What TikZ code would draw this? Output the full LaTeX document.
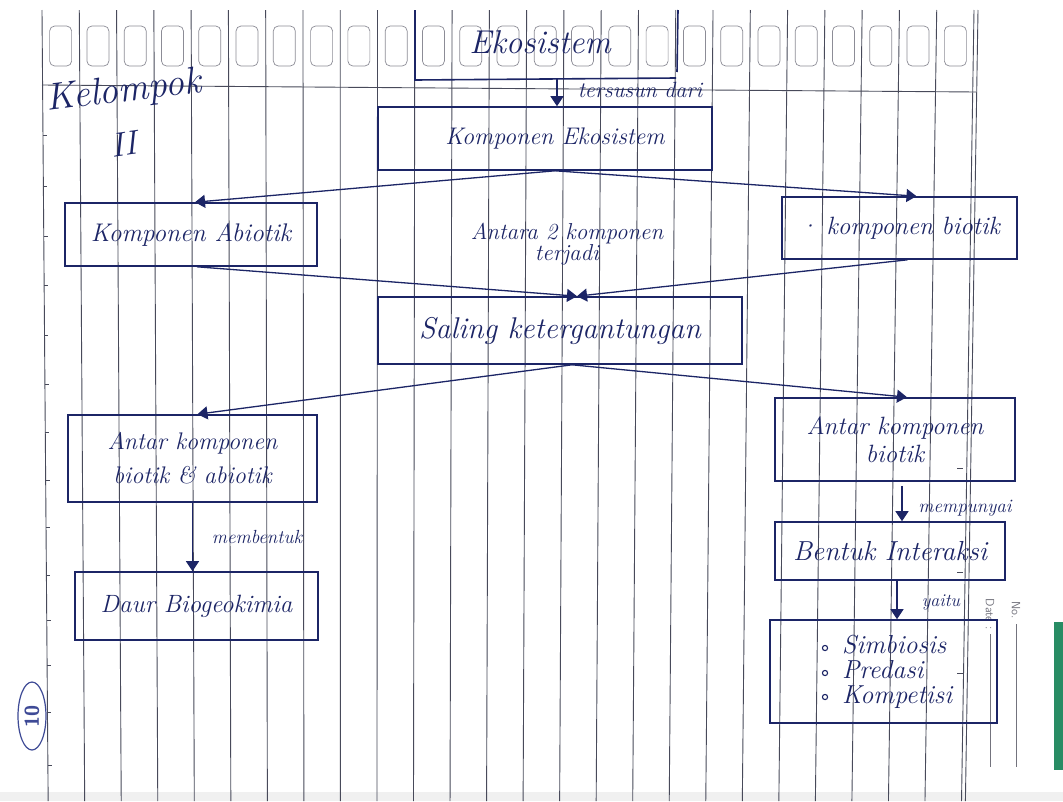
\documentclass[tikz,border=0pt]{standalone}
\usetikzlibrary{arrows.meta,calc}
\definecolor{ink}{RGB}{28,37,102}
\definecolor{rule}{RGB}{72,74,90}
\definecolor{slot}{RGB}{140,140,150}
\definecolor{stamp}{RGB}{62,74,150}
\definecolor{printgray}{RGB}{115,115,125}
\definecolor{edgegreen}{RGB}{40,140,100}
\newcommand\hs[2]{\itshape\fontsize{#1}{#2}\selectfont}
\begin{document}
\begin{tikzpicture}[x=1pt,y=-1pt,
  rulel/.style={draw=rule,line width=0.9pt},
  slotbox/.style={draw=slot,line width=0.7pt,rounded corners=5pt},
  inkbox/.style={draw=ink,line width=1.6pt,inner sep=0pt,text=ink,align=center},
  inkline/.style={draw=ink,line width=1.6pt},
  arr/.style={draw=ink,line width=1.3pt,-{Triangle[width=13pt,length=10pt]}},
  lbl/.style={text=ink,inner sep=0pt,align=center},
]
\useasboundingbox (0,0) rectangle (1063,801);
\fill[white] (0,0) rectangle (1063,801);
\fill[black!6] (0,792) rectangle (1063,801);

% notebook page: vertical rules, writing slots, top rule, margin ticks
\foreach \i in {0,...,25}{
  \pgfmathsetmacro\X{42+37.28*\i}
  \pgfmathsetmacro\B{\X+7-0.02*\X}
  \draw[rulel] (\X,10) -- (\B,801);
}
\draw[rulel] (978,10) -- (965.4,801);
\foreach \i in {0,...,24}{
  \pgfmathsetmacro\C{42+37.28*\i+18.64}
  \draw[slotbox] (\C-11,26) rectangle (\C+11,66);
}
\draw[rulel] (42,85) -- (976,92);
\foreach \t in {135,186,236,285,335,384,432,480,527,575,620,665,712,765}{
  \pgfmathsetmacro\L{42+(\t-10)/791*6}
  \draw[rulel] (\L,\t) -- (\L+4,\t);
}
\foreach \t in {468,572,673}{
  \draw[rulel] (957,\t) -- (963,\t);
}

% printed page fields
\node[text=printgray,font=\sffamily\fontsize{12}{14}\selectfont,rotate=-90,inner sep=0pt] (datef) at (990,614) {Date :};
\node[text=printgray,font=\sffamily\fontsize{12}{14}\selectfont,rotate=-90,inner sep=0pt] (nof) at (1016,610) {No.};
\draw[printgray,line width=0.8pt] (990,634) -- (990,767);
\draw[printgray,line width=0.8pt] (1016,624) -- (1016,767);
\fill[edgegreen] (1054,622) rectangle (1063,770);

% page number stamp
\draw[stamp,line width=1.2pt] (32,716) ellipse (14pt and 34pt);
\node[text=stamp,font=\sffamily\bfseries\fontsize{20}{22}\selectfont,rotate=90,inner sep=0pt] (pg) at (32,716) {10};

% group title
\node[lbl,font=\hs{38}{40},rotate=7] (kel) at (124,92) {Kelompok};
\node[lbl,font=\hs{34}{36},rotate=8] (grp) at (124,144) {II};

% top: ecosystem
\node[lbl,font=\hs{33}{36}] (eko) at (540,42) {Ekosistem};
\draw[inkline] (415,10) -- (415,80) -- (676,78);
\draw[inkline] (678,10) -- (677,72);
\coordinate (ekoB) at (557,78);
\node[inkbox,minimum width=334pt,minimum height=63pt,font=\hs{24}{28}] (ke) at (545,138.5) {\hspace*{20pt}Komponen Ekosistem};
\draw[arr] (ekoB) -- (ekoB |- ke.north);
\node[lbl,font=\hs{22}{24}] (tsd) at (640,90) {tersusun dari};

% second level
\node[inkbox,minimum width=252pt,minimum height=63pt,font=\hs{25.5}{28}] (abio) at (191,234.5) {Komponen Abiotik};
\node[inkbox,minimum width=235pt,minimum height=62pt,font=\hs{25}{28}] (bio) at (899.5,228) {\textperiodcentered\ komponen biotik};
\draw[arr] ([xshift=10pt]ke.south) -- ([xshift=4pt]abio.north);
\draw[arr] ([xshift=10pt]ke.south) -- ([xshift=17pt]bio.north);
\node[lbl,font=\hs{23}{19}] (mid) at (567,244) {Antara 2 komponen\\terjadi};

% interdependence
\node[inkbox,minimum width=364pt,minimum height=67pt,font=\hs{30}{32}] (sal) at (560,330.5) {Saling ketergantungan};
\draw[arr] ([xshift=6pt]abio.south) -- ([xshift=17pt]sal.north);
\draw[arr] ([xshift=8pt]bio.south) -- ([xshift=17pt]sal.north);

% third level
\node[inkbox,minimum width=249pt,minimum height=87pt,font=\hs{24}{34}] (ba) at (192.5,458.5) {Antar komponen\\biotik \& abiotik};
\node[inkbox,minimum width=240pt,minimum height=83pt,font=\hs{25}{28}] (bb) at (895,439.5) {Antar komponen\\biotik};
\draw[arr] ([xshift=12pt]sal.south) -- ([xshift=5pt]ba.north);
\draw[arr] ([xshift=12pt]sal.south) -- ([xshift=12pt]bb.north);

% left branch
\node[inkbox,minimum width=243pt,minimum height=68pt,font=\hs{25}{28}] (daur) at (196.5,606) {Daur Biogeokimia};
\draw[arr] (ba.south) -- (ba.south |- daur.north);
\node[lbl,font=\hs{19}{22}] (mbt) at (257,537) {membentuk};

% right branch
\node[inkbox,minimum width=230pt,minimum height=58pt,font=\hs{27.5}{30}] (bent) at (890,551) {Bentuk Interaksi};
\draw[arr,shorten <=4pt] ([xshift=7pt]bb.south) -- ([xshift=7pt]bb.south |- bent.north);
\node[lbl,font=\hs{19}{22}] (mpy) at (965,508) {mempunyai};

\node[inkbox,minimum width=227pt,minimum height=103pt] (list) at (883.5,671.5) {};
\draw[arr] ([xshift=7pt]bent.south) -- ([xshift=7pt]bent.south |- list.north);
\node[lbl,font=\hs{18}{22}] (yt) at (941,602) {yaitu};
\foreach \t in {648,673,697}{
  \draw[ink,line width=1.1pt] (825,\t) circle (2.6pt);
}
\node[lbl,font=\hs{26}{25},align=left,anchor=west] (items) at (842,672) {Simbiosis\\Predasi\\Kompetisi};
\end{tikzpicture}
\end{document}
